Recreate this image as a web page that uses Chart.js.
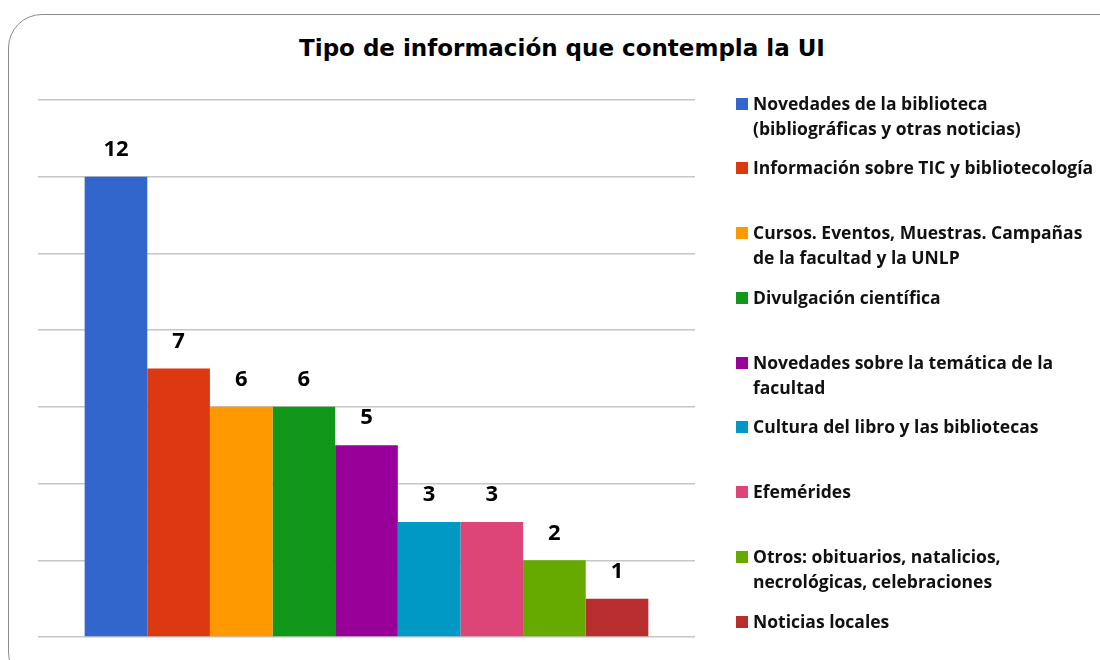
<!DOCTYPE html>
<html>
<head>
<meta charset="utf-8">
<script src="https://cdn.jsdelivr.net/npm/chart.js@4.4.1/dist/chart.umd.min.js"></script>
<style>
body { margin: 0; background: #fff; }
#wrap { position: relative; width: 1100px; height: 660px; overflow: hidden; }
#frame { position: absolute; left: 8px; top: 14px; width: 1130px; height: 670px; border: 1.5px solid #8c8c8c; border-radius: 34px; }
#title { position: absolute; left: 0; top: 35px; width: 1124px; text-align: center; font: bold 23px "DejaVu Sans", sans-serif; color: #000; }
#chart { position: absolute; left: 0; top: 0; }
.lg-item { position: absolute; left: 736px; font: bold 17.5px "Open Sans", sans-serif; line-height: 25px; color: #111; white-space: pre-line; }
.lg-box { position: absolute; left: 0; top: 7px; width: 12px; height: 12px; }
.lg-text { margin-left: 17px; }
</style>
</head>
<body>
<div id="wrap">
  <div id="frame"></div>
  <div id="title">Tipo de información que contempla la UI</div>
  <canvas id="chart" width="1100" height="660"></canvas>
  <div id="legend"></div>
</div>
<script>
// data
const categories = [
    'Novedades de la biblioteca\n(bibliográficas y otras noticias)',
    'Información sobre TIC y bibliotecología',
    'Cursos. Eventos, Muestras. Campañas\nde la facultad y la UNLP',
    'Divulgación científica',
    'Novedades sobre la temática de la\nfacultad',
    'Cultura del libro y las bibliotecas',
    'Efemérides',
    'Otros: obituarios, natalicios,\nnecrológicas, celebraciones',
    'Noticias locales'
];
const counts = [12, 7, 6, 6, 5, 3, 3, 2, 1];
const colors = ['#3366CC', '#DC3912', '#FF9900', '#109618', '#990099', '#0099C6', '#DD4477', '#66AA00', '#B82E2E'];

// value labels above bars
const valueLabels = {
    id: 'valueLabels',
    afterDatasetsDraw(chart) {
        const ctx = chart.ctx;
        ctx.save();
        ctx.font = 'bold 22px "Open Sans"';
        ctx.fillStyle = '#000';
        ctx.textAlign = 'center';
        ctx.textBaseline = 'middle';
        chart.data.datasets.forEach((ds, i) => {
            chart.getDatasetMeta(i).data.forEach((bar, j) => {
                ctx.fillText(ds.data[j], bar.x, bar.y - 27);
            });
        });
        ctx.restore();
    }
};

function d2c_infoChart(){
    const el = document.getElementById('chart');
    const chart = new Chart(el, {
        type: 'bar',
        data: {
            labels: [''],
            datasets: categories.map((c, i) => ({
                label: c,
                data: [counts[i]],
                backgroundColor: colors[i],
                borderWidth: 0
            }))
        },
        options: {
            responsive: false,
            animation: false,
            categoryPercentage: 0.858,
            barPercentage: 1,
            layout: { padding: { left: 38, right: 405, top: 100, bottom: 15 } },
            plugins: {
                legend: { display: false },
                title: { display: false },
                tooltip: { enabled: false }
            },
            scales: {
                x: {
                    grid: { display: false },
                    border: { display: false },
                    ticks: { display: false }
                },
                y: {
                    min: 0,
                    max: 14,
                    ticks: { display: false, stepSize: 2 },
                    grid: { color: '#c6c6c6', lineWidth: 1.5, drawTicks: false },
                    border: { display: false }
                }
            }
        },
        plugins: [valueLabels]
    });

    // html legend
    const legend = document.getElementById('legend');
    chart.data.datasets.forEach((ds, i) => {
        const item = document.createElement('div');
        item.className = 'lg-item';
        item.style.top = (103 + i * 64.75 - 12.5) + 'px';
        const box = document.createElement('div');
        box.className = 'lg-box';
        box.style.background = ds.backgroundColor;
        const text = document.createElement('div');
        text.className = 'lg-text';
        text.textContent = ds.label;
        item.appendChild(box);
        item.appendChild(text);
        legend.appendChild(item);
    });
}d2c_infoChart();
</script>
</body>
</html>
